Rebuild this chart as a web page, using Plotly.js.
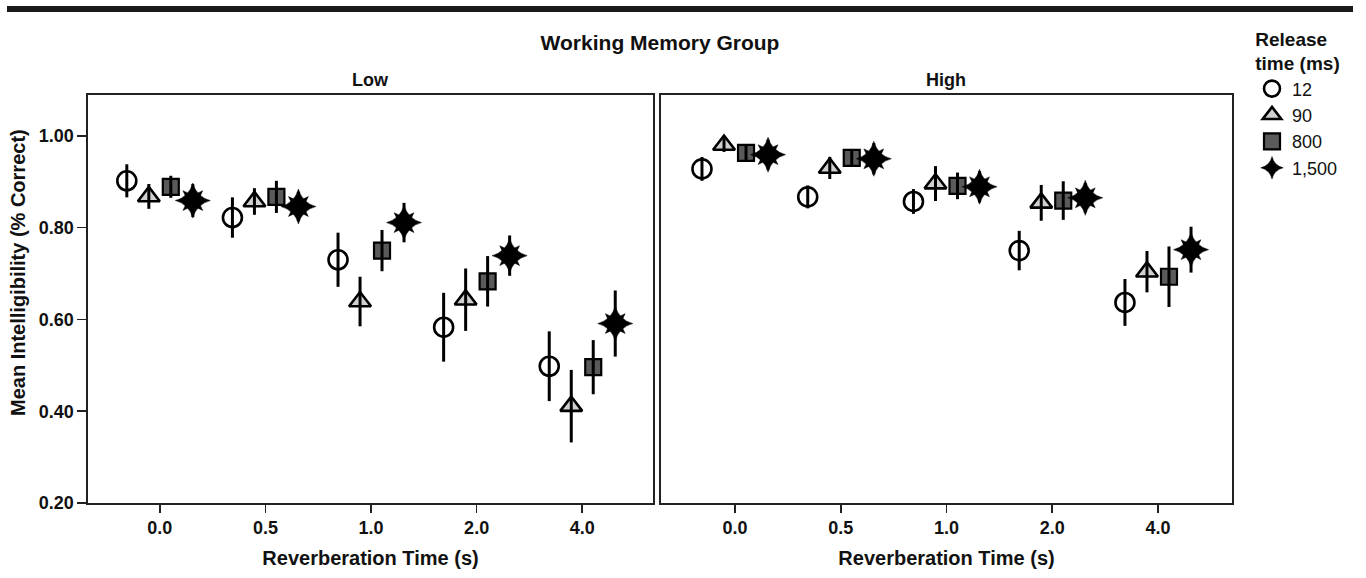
<!DOCTYPE html>
<html>
<head>
<meta charset="utf-8">
<script src="https://cdn.plot.ly/plotly-3.0.1.min.js"></script>
<style>html,body{margin:0;padding:0;background:#fff;}#chart{width:1366px;height:578px;}</style>
</head>
<body>
<div id="chart"></div>
<script>
// ---- data ----
const rtLabels = ['0.0', '0.5', '1.0', '2.0', '4.0'];          // reverberation time (s)
const releaseTimes = ['12', '90', '800', '1,500'];              // release time (ms)
const groups = ['Low', 'High'];                                 // working memory group

// Low working-memory group: means and error half-lengths
const low12 = [0.902, 0.822, 0.730, 0.583, 0.498];
const low12Err = [0.036, 0.044, 0.059, 0.075, 0.076];
const low90 = [0.868, 0.857, 0.639, 0.643, 0.411];
const low90Err = [0.027, 0.029, 0.054, 0.068, 0.079];
const low800 = [0.889, 0.867, 0.750, 0.683, 0.496];
const low800Err = [0.024, 0.035, 0.045, 0.055, 0.059];
const low1500 = [0.859, 0.846, 0.811, 0.739, 0.591];
const low1500Err = [0.036, 0.032, 0.043, 0.044, 0.072];

// High working-memory group
const high12 = [0.928, 0.867, 0.857, 0.750, 0.637];
const high12Err = [0.026, 0.025, 0.027, 0.043, 0.051];
const high90 = [0.980, 0.930, 0.896, 0.854, 0.704];
const high90Err = [0.015, 0.024, 0.038, 0.039, 0.045];
const high800 = [0.963, 0.952, 0.891, 0.859, 0.693];
const high800Err = [0.017, 0.016, 0.029, 0.042, 0.066];
const high1500 = [0.959, 0.950, 0.889, 0.865, 0.752];
const high1500Err = [0.033, 0.034, 0.034, 0.032, 0.050];

const yTickVals = [0.2, 0.4, 0.6, 0.8, 1.0];

// ---- styling ----
const FONT = 'Liberation Sans, Arial, Helvetica, sans-serif';
const dodge = [-0.3125, -0.104, 0.104, 0.3125];
const styles = [
  [{symbol: 'circle-open', size: 19, color: '#000', line: {color: '#000', width: 2.6}}],
  [{symbol: 'triangle-up', size: 19, color: '#d0d0d0', line: {color: '#000', width: 2.6}}],
  [{symbol: 'square', size: 16, color: '#5a5a5a', line: {color: '#000', width: 2.2}}],
  [{symbol: 'star-diamond', size: 25, color: '#000', line: {color: '#000', width: 0.5}},
   {symbol: 'star-square', size: 18, color: '#000', line: {color: '#000', width: 0.5}}]
];

const series = [
  [[low12, low12Err], [low90, low90Err], [low800, low800Err], [low1500, low1500Err]],
  [[high12, high12Err], [high90, high90Err], [high800, high800Err], [high1500, high1500Err]]
];

const traces = [];
const errTraces = [];
series.forEach((grp, g) => {
  const xa = g === 0 ? 'x' : 'x2';
  const ya = g === 0 ? 'y' : 'y2';
  grp.forEach(([vals, errs], s) => {
    const xs = rtLabels.map((_, i) => i + dodge[s]);
    styles[s].forEach((m, k) => {
      traces.push({
        type: 'scatter', mode: 'markers', x: xs, y: vals, xaxis: xa, yaxis: ya,
        name: releaseTimes[s], legendgroup: releaseTimes[s],
        showlegend: g === 0 && k === 0,
        marker: m, hoverinfo: 'y'
      });
    });
    errTraces.push({
      type: 'scatter', mode: 'markers', x: xs, y: vals, xaxis: xa, yaxis: ya,
      showlegend: false, hoverinfo: 'skip',
      marker: {size: 1, opacity: 0},
      error_y: {type: 'data', array: errs, visible: true, color: '#000', thickness: 3, width: 0}
    });
  });
});

const L = 88, R = 1232, T = 95, B = 503;
const W = R - L, H = B - T;
const px2x = p => (p - L) / W;
const px2y = p => (B - p) / H;

const axisCommon = {
  showgrid: false, zeroline: false, showline: true, mirror: true,
  linecolor: '#222', linewidth: 1.6,
  tickfont: {family: FONT, size: 18, color: '#111', weight: 'bold'},
};

const xCommon = Object.assign({}, axisCommon, {
  tickmode: 'array', tickvals: rtLabels.map((_, i) => i), ticktext: rtLabels,
  ticks: 'outside', ticklen: 8, tickwidth: 1.5, tickcolor: '#222',
  title: {text: 'Reverberation Time (s)', font: {family: FONT, size: 20, color: '#111', weight: 'bold'}, standoff: 14}
});

const layout = {
  width: 1366, height: 578,
  margin: {l: L, r: 1366 - R, t: T, b: 578 - B},
  paper_bgcolor: '#fff', plot_bgcolor: '#fff',
  font: {family: FONT, color: '#111'},
  title: {text: 'Working Memory Group', x: 660 / 1366, xanchor: 'center', y: 1 - 43 / 578, yanchor: 'middle',
          font: {family: FONT, size: 21, color: '#111', weight: 'bold'}},
  xaxis: Object.assign({}, xCommon, {domain: [0, px2x(653)], range: [-0.68, 4.67], anchor: 'y'}),
  xaxis2: Object.assign({}, xCommon, {domain: [px2x(661), 1], range: [-0.70, 4.70], anchor: 'y2'}),
  yaxis: Object.assign({}, axisCommon, {
    range: [0.2, 1.089], tickmode: 'array', tickvals: yTickVals, tickformat: '.2f',
    ticks: 'outside', ticklen: 9, tickwidth: 1.5, tickcolor: '#222', anchor: 'x'
  }),
  yaxis2: Object.assign({}, axisCommon, {
    range: [0.2, 1.089], matches: 'y', showticklabels: false, ticks: '', anchor: 'x2'
  }),
  showlegend: true,
  legend: {
    x: px2x(1252), xanchor: 'left', y: px2y(21), yanchor: 'top',
    font: {family: FONT, size: 18, color: '#111'},
    title: {text: '<b>Release<br>time (ms)</b>', side: 'top center', font: {family: FONT, size: 19, color: '#111'}},
    bgcolor: 'rgba(0,0,0,0)', borderwidth: 0, itemwidth: 30, tracegroupgap: 0
  },
  annotations: [
    {text: groups[0], xref: 'paper', yref: 'paper', x: px2x(370), y: px2y(80), showarrow: false,
     font: {family: FONT, size: 18, color: '#111', weight: 'bold'}, xanchor: 'center', yanchor: 'middle'},
    {text: groups[1], xref: 'paper', yref: 'paper', x: px2x(946), y: px2y(80), showarrow: false,
     font: {family: FONT, size: 18, color: '#111', weight: 'bold'}, xanchor: 'center', yanchor: 'middle'},
    {text: 'Mean Intelligibility (% Correct)', xref: 'paper', yref: 'paper', x: px2x(18), y: px2y(273),
     textangle: -90, showarrow: false, xanchor: 'center', yanchor: 'middle',
     font: {family: FONT, size: 20, color: '#111', weight: 'bold'}}
  ],
  shapes: [
    {type: 'rect', xref: 'paper', yref: 'paper', x0: px2x(7), x1: px2x(1353), y0: px2y(12), y1: px2y(6),
     fillcolor: '#1a1a1a', line: {width: 0}, layer: 'above'}
  ]
};

Plotly.newPlot('chart', traces.concat(errTraces), layout, {displayModeBar: false, staticPlot: true});
</script>
</body>
</html>
